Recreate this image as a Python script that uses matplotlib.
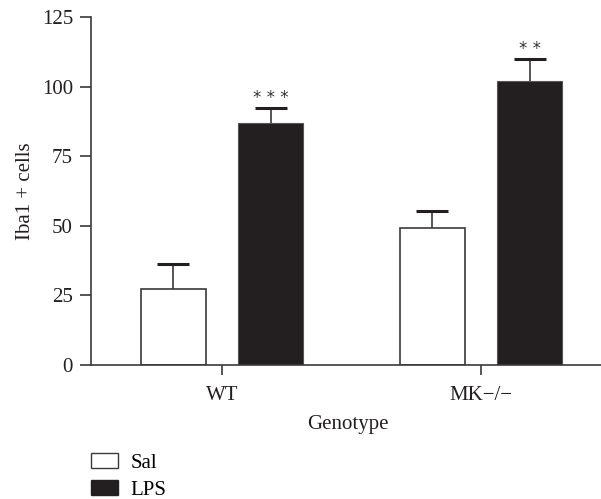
import matplotlib
matplotlib.use("Agg")
import matplotlib.pyplot as plt
from matplotlib.patches import Patch
import numpy as np

plt.rcParams['font.family'] = ['Liberation Serif', 'DejaVu Serif']

genotypes = ["WT", "MK\u2212/\u2212"]
sal_means = [27.2, 49.1]
sal_err = [9.2, 6.3]
lps_means = [86.8, 102.1]
lps_err = [5.6, 7.8]
lps_stars = ["* * *", "* *"]

BLACK = "#231f20"
AX = "#3a3a3a"

fig = plt.figure(figsize=(6.01, 4.99), dpi=100)
ax = fig.add_axes([91/601, (499-365)/499, (601-91)/601, 348/499])

x = np.arange(len(genotypes))
w = 0.251
off = 0.188
cap = 0.062

ax.bar(x - off, sal_means, w, color="white", edgecolor=AX, linewidth=1.2, zorder=2, label="Sal")
ax.bar(x + off, lps_means, w, color=BLACK, edgecolor="#555555", linewidth=0.8, zorder=2, label="LPS")

def upper_err(xs, ms, es):
    for xi, m, e in zip(xs, ms, es):
        ax.vlines(xi, m, m + e, color=AX, linewidth=1.2, zorder=3)
        ax.hlines(m + e, xi - cap, xi + cap, color=BLACK, linewidth=2.2, zorder=3)

upper_err(x - off, sal_means, sal_err)
upper_err(x + off, lps_means, lps_err)
for xi, m, e, s in zip(x + off, lps_means, lps_err, lps_stars):
    ax.text(xi, m + e + 0.4, s, ha="center", va="bottom", fontsize=12, color="#333333",
            fontfamily="DejaVu Sans")

ax.set_xlim(-0.506, 1.463)
ax.set_ylim(0, 125)
ax.set_yticks([0, 25, 50, 75, 100, 125])
ax.set_xticks(x)
ax.set_xticklabels(genotypes)
for s in ["top", "right"]:
    ax.spines[s].set_visible(False)
for s in ["left", "bottom"]:
    ax.spines[s].set_color(AX)
    ax.spines[s].set_linewidth(1.2)
ax.spines["bottom"].set_zorder(4)
ax.tick_params(axis="both", colors=AX, labelcolor="#231f20", labelsize=15, width=1.2, length=8, pad=5)
ax.tick_params(axis="x", length=7, pad=8)

ax.set_ylabel("Iba1 + cells", fontsize=15, color="#231f20", labelpad=5)
fig.text(348/601, 1 - 424/499, "Genotype", ha="center", va="center", fontsize=15, color="#231f20")

handles = [Patch(facecolor="white", edgecolor=AX, linewidth=1.0, label="Sal"),
           Patch(facecolor=BLACK, edgecolor=BLACK, label="LPS")]
fig.legend(handles=handles, loc="upper left", bbox_to_anchor=(91/601, 1 - 453/499),
           frameon=False, fontsize=15, handlelength=1.3, handleheight=0.75,
           handletextpad=0.6, labelspacing=0.35, borderaxespad=0, borderpad=0)

fig.savefig("out.png", dpi=100)
